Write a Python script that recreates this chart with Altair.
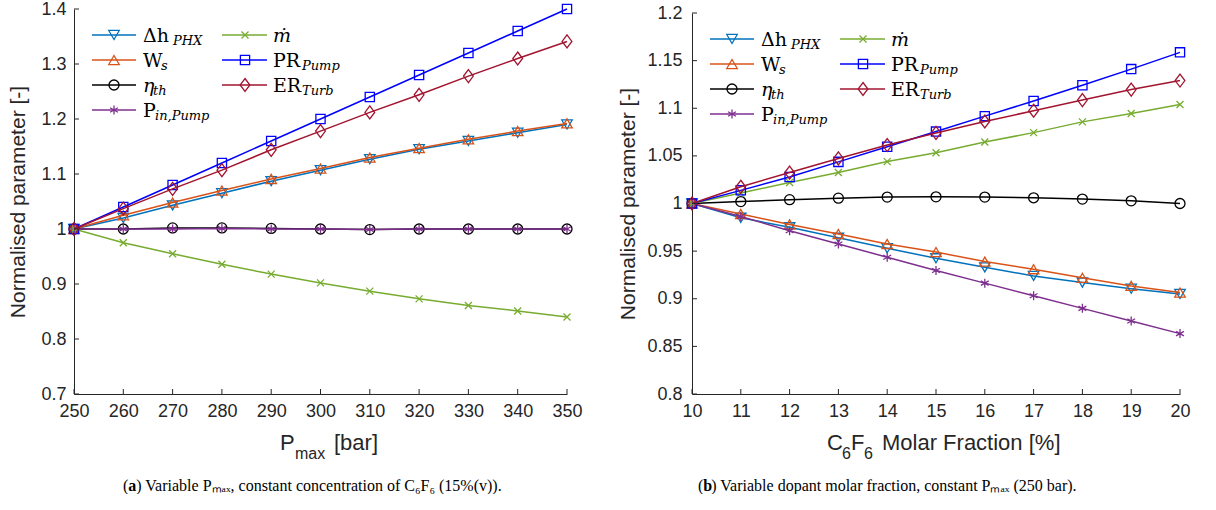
import altair as alt
import pandas as pd

# ---------------- data ----------------
P_MAX = [250, 260, 270, 280, 290, 300, 310, 320, 330, 340, 350]
A_DH = [1.000, 1.020, 1.043, 1.065, 1.087, 1.107, 1.127, 1.145, 1.160, 1.175, 1.190]
A_WS = [1.000, 1.025, 1.048, 1.070, 1.091, 1.110, 1.130, 1.147, 1.163, 1.178, 1.192]
A_ETA = [1.000, 1.000, 1.002, 1.002, 1.001, 1.000, 0.999, 1.000, 1.000, 1.000, 1.000]
A_PIN = [1.000, 1.000, 1.000, 1.001, 1.000, 1.000, 0.999, 1.000, 1.000, 1.000, 1.000]
A_MDOT = [1.000, 0.975, 0.955, 0.936, 0.918, 0.902, 0.887, 0.873, 0.861, 0.851, 0.840]
A_PR = [1.000, 1.040, 1.080, 1.120, 1.160, 1.200, 1.240, 1.280, 1.320, 1.360, 1.400]
A_ER = [1.000, 1.037, 1.073, 1.107, 1.144, 1.178, 1.212, 1.244, 1.278, 1.310, 1.341]

MOLAR = [10, 11, 12, 13, 14, 15, 16, 17, 18, 19, 20]
B_DH = [1.000, 0.985, 0.975, 0.964, 0.953, 0.9425, 0.933, 0.924, 0.917, 0.9105, 0.905]
B_WS = [1.000, 0.989, 0.978, 0.968, 0.9575, 0.949, 0.939, 0.931, 0.922, 0.9135, 0.9065]
B_ETA = [1.000, 1.002, 1.004, 1.0056, 1.0067, 1.007, 1.0067, 1.006, 1.0046, 1.0028, 1.000]
B_PIN = [1.000, 0.9864, 0.9714, 0.9575, 0.9436, 0.9296, 0.9164, 0.9031, 0.8899, 0.8767, 0.8634]
B_MDOT = [1.000, 1.011, 1.022, 1.0325, 1.044, 1.0533, 1.0646, 1.0744, 1.0857, 1.0945, 1.104]
B_PR = [1.000, 1.0138, 1.0279, 1.0437, 1.0596, 1.0755, 1.0917, 1.1076, 1.1242, 1.1411, 1.1587]
B_ER = [1.000, 1.0176, 1.0325, 1.0473, 1.0614, 1.0741, 1.0861, 1.0974, 1.1086, 1.1196, 1.1291]

X_TICKS_A = [250, 260, 270, 280, 290, 300, 310, 320, 330, 340, 350]
Y_TICKS_A = [0.7, 0.8, 0.9, 1.0, 1.1, 1.2, 1.3, 1.4]
X_TICKS_B = [10, 11, 12, 13, 14, 15, 16, 17, 18, 19, 20]
Y_TICKS_B = [0.8, 0.85, 0.9, 0.95, 1.0, 1.05, 1.1, 1.15, 1.2]

SERIES = ["dh", "ws", "eta", "pin", "mdot", "pr", "er"]
LABEL_MAIN = {"dh": "Δh", "ws": "W", "eta": "η", "pin": "P", "mdot": "ṁ", "pr": "PR", "er": "ER"}
LABEL_SUB = {"dh": "PHX", "ws": "s", "eta": "th", "pin": "in,Pump", "mdot": "", "pr": "Pump", "er": "Turb"}
Y_TITLE = "Normalised parameter [-]"
XTITLE_A = [("P", "main"), ("max", "sub"), ("[bar]", "main")]
XTITLE_B = [("C", "main"), ("6", "sub"), ("F", "main"), ("6", "sub"), ("Molar Fraction [%]", "main")]
CAPTION_A = ["(", "a", ") Variable Pₘₐₓ, constant concentration of C₆F₆ (15%(v))."]
CAPTION_B = ["(", "b", ") Variable dopant molar fraction, constant Pₘₐₓ (250 bar)."]

VALUES_A = dict(zip(SERIES, [A_DH, A_WS, A_ETA, A_PIN, A_MDOT, A_PR, A_ER]))
VALUES_B = dict(zip(SERIES, [B_DH, B_WS, B_ETA, B_PIN, B_MDOT, B_PR, B_ER]))

# ---------------- style ----------------
AX = "#262626"
SANS = "Liberation Sans"
LEG_FONT = "DejaVu Serif"
CAP_FONT = "Liberation Serif"
COLOR = {"dh": "#0072BD", "ws": "#D95319", "eta": "#000000", "pin": "#7E2F8E",
         "mdot": "#77AC30", "pr": "#0000FF", "er": "#A2142F"}
ASTERISK = "M0,-1L0,1M-0.87,-0.5L0.87,0.5M-0.87,0.5L0.87,-0.5"
XMARK = "M-1,-1L1,1M-1,1L1,-1"
DIAMOND = "M0,-1L0.75,0L0,1L-0.75,0Z"
SHAPE = {"dh": "triangle-down", "ws": "triangle-up", "eta": "circle", "pin": ASTERISK,
         "mdot": XMARK, "pr": "square", "er": DIAMOND}
SIZE = {"dh": 110, "ws": 110, "eta": 100, "pin": 81, "mdot": 49, "pr": 85, "er": 169}

LEG_ROWS = [26, 51, 76, 101]
LEG_COLS = [(18, 62, 40, 69), (148, 193, 171, 199)]
LEG_POS = {"dh": (0, 0), "ws": (0, 1), "eta": (0, 2), "pin": (0, 3),
           "mdot": (1, 0), "pr": (1, 1), "er": (1, 2)}
LEG_SUB_DX = {"dh": 30, "ws": 18, "eta": 10, "pin": 12, "mdot": 0, "pr": 29, "er": 29}
LEG_ITALIC = {"eta", "mdot"}

ONE = pd.DataFrame({"k": [0]})
H = 385


def txt(t, x, y, size, font, style="normal", weight="normal", color="black", align="left"):
    return alt.Chart(ONE).mark_text(
        text=t, align=align, baseline="alphabetic", font=font, fontSize=size,
        fontStyle=style, fontWeight=weight, color=color
    ).encode(x=alt.value(x), y=alt.value(y))


def panel(xs, values, xdom, ydom, xticks, yticks, w, top, lab_pad, title_pad,
          xtitle, xtitle_x, caption, cap_x, leg_dy):
    h = H
    xscale = alt.Scale(domain=xdom, nice=False, zero=False)
    yscale = alt.Scale(domain=ydom, nice=False, zero=False, range=[h, top])
    xaxis = alt.Axis(values=xticks, format="~r", ticks=False, grid=False, domainColor=AX,
                     domainWidth=1, labelColor=AX, labelFont=SANS, labelFontSize=18,
                     labelPadding=8, labelFlush=False, labelOverlap=False, title=None)
    yaxis = alt.Axis(values=yticks, format="~r", ticks=False, grid=False, domainColor=AX,
                     domainWidth=1, labelColor=AX, labelFont=SANS, labelFontSize=18,
                     labelPadding=lab_pad, labelOverlap=False, labelFlush=False,
                     title=Y_TITLE, titleFont=SANS, titleFontSize=21,
                     titleFontWeight="normal", titleColor=AX, titlePadding=title_pad)
    layers = []
    for s in SERIES:
        df = pd.DataFrame({"x": xs, "y": values[s]})
        base = alt.Chart(df).encode(x=alt.X("x:Q", scale=xscale, axis=xaxis),
                                    y=alt.Y("y:Q", scale=yscale, axis=yaxis))
        layers.append(base.mark_line(color=COLOR[s], strokeWidth=1.5))
        layers.append(base.mark_point(shape=SHAPE[s], size=SIZE[s], color=COLOR[s],
                                      filled=False, strokeWidth=1.3, opacity=1))
    # inward ticks (drawn on the axis scales)
    layers.append(alt.Chart(pd.DataFrame({"x": xticks})).mark_rule(color=AX, strokeWidth=1).encode(
        x=alt.X("x:Q", scale=xscale, axis=xaxis), y=alt.value(h), y2=alt.value(h - 5)))
    layers.append(alt.Chart(pd.DataFrame({"y": yticks})).mark_rule(color=AX, strokeWidth=1).encode(
        y=alt.Y("y:Q", scale=yscale, axis=yaxis), x=alt.value(0), x2=alt.value(5)))
    # legend
    for s in SERIES:
        c, r = LEG_POS[s]
        x1, x2, mx, tx = LEG_COLS[c]
        ry = LEG_ROWS[r] + leg_dy
        layers.append(alt.Chart(ONE).mark_rule(color=COLOR[s], strokeWidth=1.5).encode(
            x=alt.value(x1), x2=alt.value(x2), y=alt.value(ry)))
        layers.append(alt.Chart(ONE).mark_point(shape=SHAPE[s], size=SIZE[s], color=COLOR[s],
                                                filled=False, strokeWidth=1.3, opacity=1).encode(
            x=alt.value(mx), y=alt.value(ry)))
        layers.append(txt(LABEL_MAIN[s], tx, ry + 7, 19, LEG_FONT,
                          style="italic" if s in LEG_ITALIC else "normal"))
        if LABEL_SUB[s]:
            layers.append(txt(LABEL_SUB[s], tx + LEG_SUB_DX[s], ry + 10, 13, LEG_FONT, style="italic"))
    # x title pieces
    xt_y = h + 56
    for (t, kind), x in zip(xtitle, xtitle_x):
        if kind == "main":
            layers.append(txt(t, x, xt_y, 22, SANS, color=AX))
        else:
            layers.append(txt(t, x, xt_y + 9, 16, SANS, color=AX))
    # caption
    cx = cap_x
    widths = [5.3, 8.0, 0]
    for i, t in enumerate(caption):
        layers.append(txt(t, cx, h + 97, 16, CAP_FONT, weight="bold" if i == 1 else "normal"))
        cx += widths[i]
    return alt.layer(*layers).properties(width=w, height=h)


left = panel(P_MAX, VALUES_A, [250, 350], [0.7, 1.4], X_TICKS_A, Y_TICKS_A, 493, 0, 8, 12,
             XTITLE_A, [206, 221, 260], CAPTION_A, 49, 0)
right = panel(MOLAR, VALUES_B, [10, 20], [0.8, 1.2], X_TICKS_B, Y_TICKS_B, 488, 4, 10, 8,
              XTITLE_B, [135, 150, 159, 172, 190], CAPTION_B, 6, 4)

chart = alt.hconcat(left, right, spacing=34).properties(
    padding={"left": 7, "top": 0, "right": 5, "bottom": 0}, background="white"
).configure_view(stroke=None)

chart.save("out.html", embed_options={"renderer": "svg", "actions": False})
